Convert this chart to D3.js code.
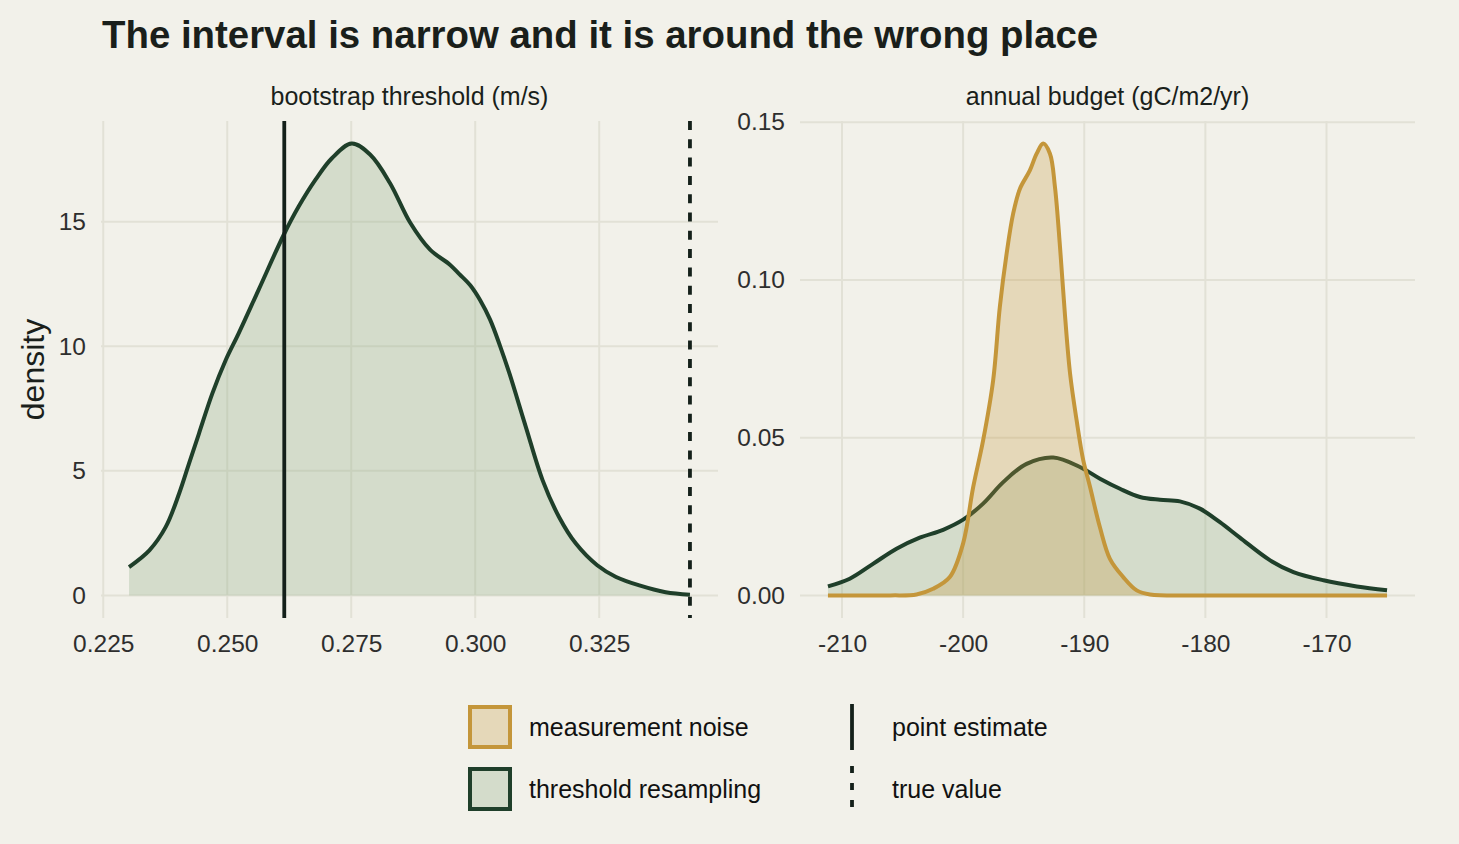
<!DOCTYPE html>
<html>
<head>
<meta charset="utf-8">
<script src="https://cdn.jsdelivr.net/npm/d3@7"></script>
<style>
  html, body { margin: 0; padding: 0; background: #f2f1ea; }
  svg { display: block; font-family: "Liberation Sans", Arial, Helvetica, sans-serif; }
</style>
</head>
<body>
<div id="chart"></div>
<script>
// ---- data ----
const titleText = "The interval is narrow and it is around the wrong place";
const facetNames = ["bootstrap threshold (m/s)", "annual budget (gC/m2/yr)"];
const groupNames = ["measurement noise", "threshold resampling"];
const lineNames = ["point estimate", "true value"];

// left facet: threshold resampling density
const thresholdX = [0.2302, 0.2343, 0.2376, 0.2403, 0.2423, 0.2443, 0.2470, 0.2497, 0.2523, 0.2563,
  0.2614, 0.2644, 0.2678, 0.2711, 0.2751, 0.2788, 0.2828, 0.2869, 0.2909, 0.2949, 0.2968, 0.2990,
  0.3010, 0.3030, 0.3050, 0.3069, 0.3102, 0.3136, 0.3169, 0.3203, 0.3246, 0.3284, 0.3331, 0.3384, 0.3433];
const thresholdDensity = [1.14, 1.81, 2.75, 4.09, 5.30, 6.50, 8.11, 9.45, 10.52, 12.26,
  14.48, 15.61, 16.69, 17.55, 18.14, 17.70, 16.56, 14.96, 13.88, 13.28, 12.90, 12.45,
  11.85, 11.07, 10.02, 8.91, 6.77, 4.62, 3.15, 2.08, 1.21, 0.74, 0.40, 0.13, 0.03];
const pointEstimate = 0.2615;
const trueValue = 0.3433;

// right facet: annual budget densities
const noiseX = [-211.16, -206, -203.85, -202.48, -201.1, -200.0, -199.17, -198.35, -197.52, -196.97,
  -196.41, -195.87, -195.31, -194.49, -193.93, -193.39, -192.83, -192.42, -192.0, -191.6, -191.17,
  -190.63, -190.08, -189.53, -188.7, -187.88, -186.78, -185.67, -184.57, -180, -165.0];
const noiseDensity = [0, 0, 0.0003, 0.0021, 0.0058, 0.0165, 0.0343, 0.0491, 0.0682, 0.0914,
  0.1083, 0.1210, 0.1289, 0.1347, 0.1400, 0.1432, 0.1400, 0.1295, 0.1104, 0.0893, 0.0703,
  0.0555, 0.0428, 0.0345, 0.0215, 0.0116, 0.0058, 0.0016, 0.0003, 0, 0];
const resampleX = [-211.16, -209.36, -207.44, -205.5, -203.58, -201.65, -200.0, -198.35, -196.69,
  -194.76, -192.56, -190.36, -188.7, -187.05, -185.4, -183.75, -182.1, -180.45, -178.8, -177.15,
  -174.65, -172.73, -170.25, -167.5, -165.0];
const resampleDensity = [0.00285, 0.0053, 0.0100, 0.0148, 0.0183, 0.0208, 0.0240, 0.0291, 0.0359,
  0.0417, 0.0437, 0.0407, 0.0370, 0.0338, 0.0312, 0.0303, 0.0298, 0.0275, 0.0232, 0.0183,
  0.0111, 0.0074, 0.0048, 0.00285, 0.0016];

const leftXTicks = [0.225, 0.250, 0.275, 0.300, 0.325];
const leftYTicks = [0, 5, 10, 15];
const rightXTicks = [-210, -200, -190, -180, -170];
const rightYTicks = [0, 0.05, 0.10, 0.15];

// ---- styling ----
const bg = "#f2f1ea";
const gridColor = "#e2e1d6";
const green = { line: "#1f3f2a", fill: "#8eab86", alpha: 0.3 };
const gold = { line: "#c4963a", fill: "#c4963a", alpha: 0.28 };
const vlineColor = "#14201a";
const textDark = "#1a1f1b";
const tickColor = "#2e2e2e";

const W = 1459, H = 844;
const panelTop = 121, panelBottom = 618;
const panels = [
  { left: 101, right: 718 },
  { left: 800, right: 1415 }
];

// ggplot-ish 5% expansion
function expand(ext) {
  const pad = (ext[1] - ext[0]) * 0.05;
  return [ext[0] - pad, ext[1] + pad];
}

function zip(xs, ys) { return xs.map((x, i) => ({ x: x, y: ys[i] })); }

const svg = d3.select("#chart").append("svg")
  .attr("width", W).attr("height", H);

svg.append("rect").attr("width", W).attr("height", H).attr("fill", bg);

svg.append("text")
  .attr("x", 102).attr("y", 48)
  .attr("font-size", 38.4).attr("font-weight", "bold")
  .attr("fill", textDark)
  .text(titleText);

function drawPanel(p, facet, xTicks, yTicks, xFmt, yFmt, xDomain, yDomain) {
  const x = d3.scaleLinear().domain(xDomain).range([p.left, p.right]);
  const y = d3.scaleLinear().domain(yDomain).range([panelBottom, panelTop]);
  const g = svg.append("g");

  // grid
  g.append("g").selectAll("line").data(xTicks).join("line")
    .attr("x1", d => x(d)).attr("x2", d => x(d))
    .attr("y1", panelTop).attr("y2", panelBottom)
    .attr("stroke", gridColor).attr("stroke-width", 2);
  g.append("g").selectAll("line").data(yTicks).join("line")
    .attr("x1", p.left).attr("x2", p.right)
    .attr("y1", d => y(d)).attr("y2", d => y(d))
    .attr("stroke", gridColor).attr("stroke-width", 2);

  // axes (labels only)
  const ax = g.append("g").attr("transform", "translate(0," + panelBottom + ")")
    .call(d3.axisBottom(x).tickValues(xTicks).tickFormat(xFmt).tickSize(0).tickPadding(17));
  const ay = g.append("g").attr("transform", "translate(" + p.left + ",0)")
    .call(d3.axisLeft(y).tickValues(yTicks).tickFormat(yFmt).tickSize(0).tickPadding(15));
  [ax, ay].forEach(a => {
    a.select(".domain").remove();
    a.selectAll("text").attr("font-size", 24.5).attr("fill", tickColor)
      .attr("font-family", "\"Liberation Sans\", Arial, Helvetica, sans-serif");
  });

  // strip label
  g.append("text")
    .attr("x", (p.left + p.right) / 2).attr("y", 105)
    .attr("text-anchor", "middle").attr("font-size", 25).attr("fill", textDark)
    .text(facet);

  return { g: g, x: x, y: y };
}

function drawDensity(panel, pts, style) {
  const curve = d3.curveCatmullRom.alpha(0.5);
  const area = d3.area().curve(curve)
    .x(d => panel.x(d.x)).y0(panel.y(0)).y1(d => panel.y(d.y));
  const line = d3.line().curve(curve)
    .x(d => panel.x(d.x)).y(d => panel.y(d.y));
  panel.g.append("path").datum(pts).attr("d", area)
    .attr("fill", style.fill).attr("fill-opacity", style.alpha);
  panel.g.append("path").datum(pts).attr("d", line)
    .attr("fill", "none").attr("stroke", style.line).attr("stroke-width", 4);
}

// left facet
const thresholdPts = zip(thresholdX, thresholdDensity);
const leftPanel = drawPanel(panels[0], facetNames[0], leftXTicks, leftYTicks,
  d3.format(".3f"), d => String(d),
  expand(d3.extent(thresholdX.concat([pointEstimate, trueValue]))),
  expand([0, d3.max(thresholdDensity)]));
drawDensity(leftPanel, thresholdPts, green);

leftPanel.g.append("line")
  .attr("x1", leftPanel.x(pointEstimate)).attr("x2", leftPanel.x(pointEstimate))
  .attr("y1", panelTop).attr("y2", panelBottom)
  .attr("stroke", vlineColor).attr("stroke-width", 3.8);
leftPanel.g.append("line")
  .attr("x1", leftPanel.x(trueValue)).attr("x2", leftPanel.x(trueValue))
  .attr("y1", panelTop).attr("y2", panelBottom)
  .attr("stroke", vlineColor).attr("stroke-width", 3.8)
  .attr("stroke-dasharray", "9,9.3");

// right facet
const noisePts = zip(noiseX, noiseDensity);
const resamplePts = zip(resampleX, resampleDensity);
const rightPanel = drawPanel(panels[1], facetNames[1], rightXTicks, rightYTicks,
  d => String(d), d3.format(".2f"),
  expand(d3.extent(noiseX.concat(resampleX))),
  expand([0, d3.max(noiseDensity.concat(resampleDensity))]));
drawDensity(rightPanel, resamplePts, green);
drawDensity(rightPanel, noisePts, gold);

// y axis title
svg.append("text")
  .attr("transform", "translate(44," + (panelTop + panelBottom) / 2 + ") rotate(-90)")
  .attr("text-anchor", "middle").attr("font-size", 32).attr("fill", textDark)
  .text("density");

// ---- legend ----
const rows = [727, 789];
const legend = svg.append("g");
[gold, green].forEach((s, i) => {
  legend.append("rect")
    .attr("x", 470).attr("y", rows[i] - 20).attr("width", 40).attr("height", 40)
    .attr("fill", s.fill).attr("fill-opacity", s.alpha)
    .attr("stroke", s.line).attr("stroke-width", 4);
  legend.append("text")
    .attr("x", 529).attr("y", rows[i]).attr("dy", "0.35em")
    .attr("font-size", 25).attr("fill", "#111")
    .text(groupNames[i]);
});
["none", "7,10"].forEach((dash, i) => {
  legend.append("line")
    .attr("x1", 852).attr("x2", 852)
    .attr("y1", rows[i] - 23).attr("y2", rows[i] + 23)
    .attr("stroke", vlineColor).attr("stroke-width", 3.8)
    .attr("stroke-dasharray", dash);
  legend.append("text")
    .attr("x", 892).attr("y", rows[i]).attr("dy", "0.35em")
    .attr("font-size", 25).attr("fill", "#111")
    .text(lineNames[i]);
});
</script>
</body>
</html>
